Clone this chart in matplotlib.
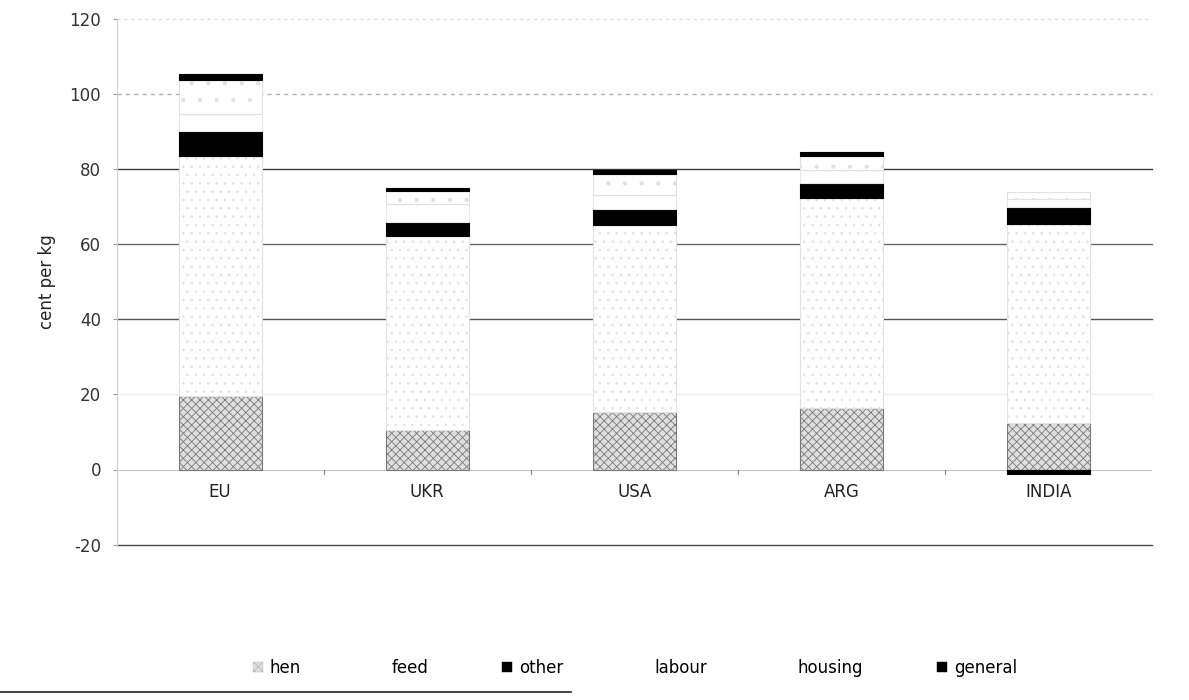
import numpy as np
import matplotlib
matplotlib.use("Agg")
from matplotlib import pyplot as plt
from matplotlib.patches import Patch
from matplotlib.lines import Line2D

# stacked cost of egg production, cent per kg
countries = ["EU", "UKR", "USA", "ARG", "INDIA"]
hen = [19.6, 10.5, 15.2, 16.5, 12.5]
feed = [64.0, 51.7, 50.0, 55.7, 53.0]
other = [6.6, 3.8, 4.3, 4.0, 4.3]
labour = [4.4, 4.6, 3.7, 3.5, 2.2]
housing = [9.0, 3.6, 5.4, 3.9, 2.0]
general = [1.6, 0.8, 1.2, 1.0, -1.2]

series = [
    ("hen", hen, dict(color="#dedede", hatch="xxxx", edgecolor="#7a7a7a")),
    ("feed", feed, dict(color="white", hatch="..", edgecolor="#e2e2e2")),
    ("other", other, dict(color="black", edgecolor="black")),
    ("labour", labour, dict(color="white", edgecolor="#e8e8e8")),
    ("housing", housing, dict(color="white", hatch=".", edgecolor="#e0e0e0")),
    ("general", general, dict(color="black", edgecolor="black")),
]

plt.rcParams["font.family"] = "DejaVu Sans"
plt.rcParams["hatch.linewidth"] = 0.6
plt.rcParams["axes.unicode_minus"] = False

fig = plt.figure(figsize=(11.89, 7.0), dpi=100)
ax = fig.add_axes([0.098, 0.222, 0.871, 0.751])

x = np.arange(len(countries))
pos_base = np.zeros(len(countries))
neg_base = np.zeros(len(countries))
handles = []
for name, vals, style in series:
    vals = np.array(vals)
    bottom = np.where(vals >= 0, pos_base, neg_base)
    ax.bar(x, vals, width=0.4, bottom=bottom, linewidth=0.8, zorder=3, **style)
    pos_base += np.where(vals >= 0, vals, 0)
    neg_base += np.where(vals < 0, vals, 0)
    handles.append(Patch(facecolor=style["color"], hatch=style.get("hatch"),
                         edgecolor="#bbbbbb" if name == "hen" else style["color"],
                         linewidth=0.3))

ax.set_ylim(-20, 120)
ax.set_xlim(-0.5, len(countries) - 0.5)
ax.set_yticks(range(-20, 121, 20))

# faded gridlines as on the scanned page
grid_style = {
    120: ("#dcdcdc", (0, (2, 3))),
    100: ("#b0b0b0", (0, (3, 3))),
    80: ("#3a3a3a", "-"),
    60: ("#666666", "-"),
    40: ("#555555", "-"),
    20: ("#eeeeee", "-"),
    -20: ("#4a4a4a", "-"),
}
for yv, (col, ls) in grid_style.items():
    ax.axhline(yv, color=col, linestyle=ls, linewidth=1.0, zorder=1, clip_on=False)

for s in ["top", "right", "bottom"]:
    ax.spines[s].set_visible(False)
ax.spines["left"].set_color("#d0d0d0")
ax.tick_params(axis="y", length=3, color="#999999", labelsize=12, labelcolor="#333333", pad=8)

# category axis sits on the zero line, ticks at category boundaries
ax.axhline(0, color="#c4c4c4", linewidth=0.8, zorder=2)
ax.set_xticks([])
for b in np.arange(0.5, len(countries) - 0.5, 1.0):
    ax.plot([b, b], [0, -1.2], color="#888888", linewidth=0.8, zorder=2)
for xi, c in zip(x, countries):
    ax.text(xi, -3.5, c, ha="center", va="top", fontsize=12, color="#222222")

ax.set_ylabel("cent per kg", fontsize=12, color="#222222", labelpad=10)

fig.legend(handles, [s[0] for s in series], loc="center", ncol=6,
           bbox_to_anchor=(0.534, 0.046), frameon=False, fontsize=12,
           handlelength=0.6, handleheight=0.6, handletextpad=0.4,
           columnspacing=4.45)

# scan page rule under the legend
fig.add_artist(Line2D([0.0, 0.48], [0.012, 0.012], color="#222222", linewidth=1.2))

fig.savefig("out.png", dpi=100)
